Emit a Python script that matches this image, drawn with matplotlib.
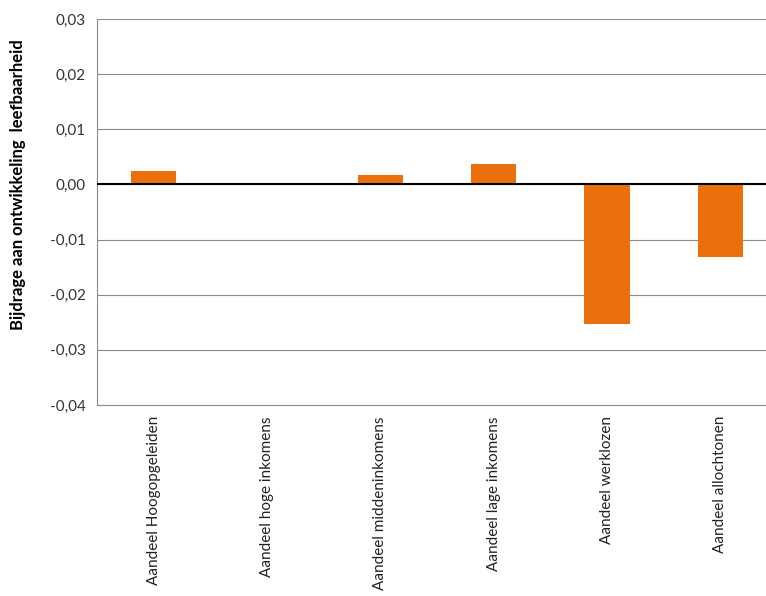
import numpy as np
import matplotlib.pyplot as plt
from matplotlib.ticker import FuncFormatter

# Data
categorieen = ['Aandeel Hoogopgeleiden', 'Aandeel hoge inkomens', 'Aandeel middeninkomens',
               'Aandeel lage inkomens', 'Aandeel werklozen', 'Aandeel allochtonen']
bijdrage = [0.0025, 0.0, 0.0018, 0.0037, -0.0253, -0.0132]

plt.rcParams['font.family'] = ['Lato', 'DejaVu Sans']

fig = plt.figure(figsize=(7.66, 5.96), dpi=100)
# plot area runs past the right edge of the picture, as in the reference
ax = fig.add_axes([0.1266, 0.3205, 0.8877, 0.6475])

x = np.arange(len(categorieen))
ax.bar(x, bijdrage, width=0.4, color='#EA700D', zorder=3)

ax.set_xlim(-0.5, len(categorieen) - 0.5)
ax.set_ylim(-0.04, 0.03)
ax.set_yticks(np.arange(-0.04, 0.0301, 0.01))
ax.yaxis.set_major_formatter(FuncFormatter(lambda v, p: '{:.2f}'.format(v).replace('.', ',').replace('-0,00', '0,00')))
ax.grid(axis='y', color='#8c8c8c', linewidth=0.8, zorder=0)
ax.axhline(0, color='black', linewidth=1.5, zorder=4)

ax.set_xticks(x)
ax.set_xticklabels(categorieen, rotation=90, fontsize=11, color='#222222')
ax.tick_params(axis='x', length=0, pad=8)
ax.tick_params(axis='y', length=0, pad=8, labelsize=11, labelcolor='#333333')

for side in ['top', 'right']:
    ax.spines[side].set_visible(False)
ax.spines['left'].set_color('#8c8c8c')
ax.spines['bottom'].set_color('#8c8c8c')

fig.text(0.024, 0.69, 'Bijdrage aan ontwikkeling  leefbaarheid', rotation=90, fontsize=12,
         fontweight='bold', ha='center', va='center')

fig.savefig('out.png', dpi=100)
